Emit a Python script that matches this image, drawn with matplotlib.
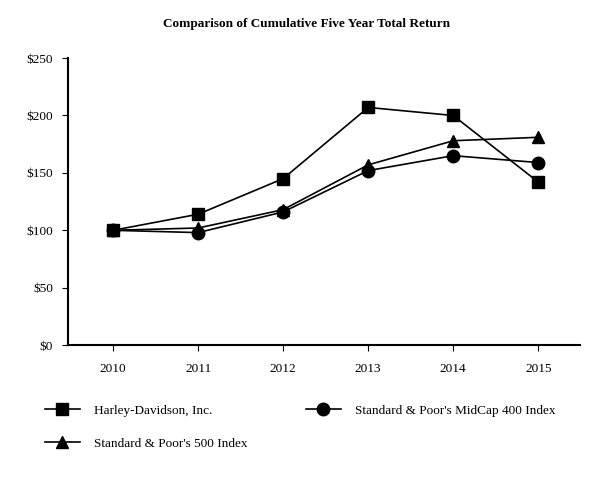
import numpy as np
import matplotlib.pyplot as plt

plt.rcParams['font.family'] = ['Liberation Serif', 'DejaVu Serif']

years = [2010, 2011, 2012, 2013, 2014, 2015]
harley = [100, 114, 145, 207, 200, 142]
midcap = [100, 98, 116, 152, 165, 159]
sp500 = [100, 102, 118, 157, 178, 181]
yticks = [0, 50, 100, 150, 200, 250]

fs = 9.5

fig = plt.figure(figsize=(6.13, 4.8), dpi=100)
ax = fig.add_axes([0.111, 0.281, 0.835, 0.598])

lh, = ax.plot(years, harley, 'k-', marker='s', ms=9, lw=1.2, label='Harley-Davidson, Inc.')
lm, = ax.plot(years, midcap, 'k-', marker='o', ms=9, lw=1.2, label="Standard & Poor's MidCap 400 Index")
ls, = ax.plot(years, sp500, 'k-', marker='^', ms=9, lw=1.2, label="Standard & Poor's 500 Index")

ax.set_xlim(2009.47, 2015.49)
ax.set_ylim(0, 250)
ax.set_xticks(years)
ax.set_yticks(yticks)
ax.set_yticklabels(['$%d' % v for v in yticks])
ax.spines['top'].set_visible(False)
ax.spines['right'].set_visible(False)
ax.spines['left'].set_linewidth(1.5)
ax.spines['bottom'].set_linewidth(1.5)
ax.tick_params(axis='both', labelsize=fs, length=4, width=0.8, direction='out')
ax.tick_params(axis='y', pad=7)
ax.tick_params(axis='x', pad=9)

fig.text(0.5, 0.95, 'Comparison of Cumulative Five Year Total Return',
         ha='center', va='center', fontsize=9.5, fontweight='bold')

fig.legend(handles=[lh, ls, lm], ncol=2, loc='upper left',
           bbox_to_anchor=(0.073, 0.157), frameon=False, fontsize=fs,
           borderpad=0, borderaxespad=0, handlelength=2.65, handletextpad=1.1,
           columnspacing=4.4, labelspacing=1.57)

plt.savefig('out.png', dpi=100)
